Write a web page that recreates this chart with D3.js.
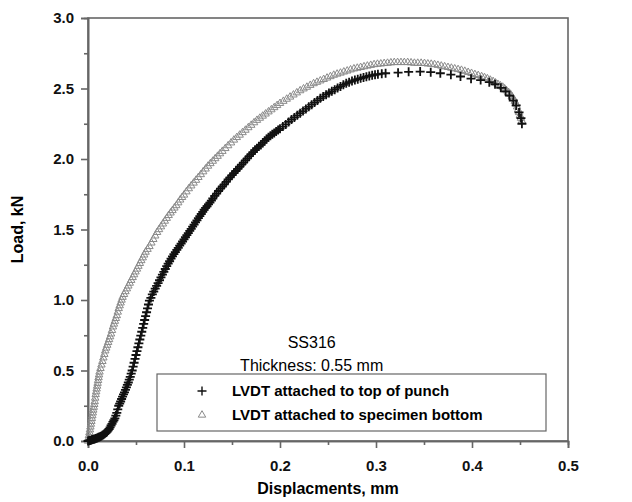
<!DOCTYPE html>
<html>
<head>
<meta charset="utf-8">
<script src="https://cdn.jsdelivr.net/npm/d3@7"></script>
<style>
  body { margin: 0; background: #fff; }
  #chart { width: 632px; height: 502px; }
  text { font-family: "Liberation Sans", Arial, sans-serif; }
</style>
</head>
<body>
<div id="chart"></div>
<script>
// tick values
const xTicks = [0, 0.1, 0.2, 0.3, 0.4, 0.5];
const xMinor = [0.05, 0.15, 0.25, 0.35, 0.45];
const yTicks = [0, 0.5, 1.0, 1.5, 2.0, 2.5, 3.0];
const yMinor = [0.25, 0.75, 1.25, 1.75, 2.25, 2.75];

const seriesNames = ["LVDT attached to top of punch", "LVDT attached to specimen bottom"];

// LVDT on top of punch (+): [displacement mm, load kN]
const punchData = [
  [0.000,0.000],[0.001,0.002],[0.002,0.004],[0.003,0.006],[0.004,0.008],[0.005,0.010],[0.006,0.012],[0.007,0.014],[0.008,0.017],[0.009,0.020],
  [0.010,0.023],[0.011,0.026],[0.012,0.029],[0.013,0.032],[0.014,0.035],[0.015,0.040],[0.016,0.045],[0.017,0.050],[0.018,0.055],[0.019,0.060],
  [0.020,0.066],[0.021,0.075],[0.022,0.085],[0.023,0.097],[0.024,0.110],[0.025,0.122],[0.026,0.135],[0.027,0.147],[0.028,0.160],[0.029,0.180],
  [0.030,0.200],[0.031,0.225],[0.032,0.250],[0.033,0.265],[0.034,0.280],[0.035,0.298],[0.036,0.315],[0.037,0.330],[0.038,0.345],[0.039,0.362],
  [0.040,0.380],[0.041,0.398],[0.042,0.415],[0.043,0.435],[0.044,0.455],[0.045,0.478],[0.046,0.500],[0.047,0.528],[0.048,0.555],[0.049,0.583],
  [0.050,0.610],[0.051,0.638],[0.052,0.665],[0.053,0.693],[0.054,0.720],[0.055,0.748],[0.056,0.775],[0.057,0.803],[0.058,0.830],[0.059,0.858],
  [0.060,0.885],[0.061,0.913],[0.062,0.940],[0.063,0.968],[0.064,0.995],[0.0655,1.015],[0.067,1.040],[0.0685,1.060],[0.070,1.080],[0.0715,1.100],
  [0.073,1.120],[0.0745,1.140],[0.076,1.160],[0.0775,1.180],[0.079,1.200],[0.0805,1.220],[0.082,1.240],[0.0835,1.258],[0.085,1.275],[0.0865,1.293],
  [0.088,1.310],[0.0895,1.325],[0.091,1.340],[0.0925,1.355],[0.094,1.370],[0.0955,1.385],[0.097,1.400],[0.0985,1.415],[0.100,1.430],[0.1015,1.445],
  [0.103,1.460],[0.1045,1.475],[0.106,1.490],[0.1075,1.505],[0.109,1.520],[0.1105,1.535],[0.112,1.550],[0.1135,1.565],[0.115,1.580],[0.1165,1.595],
  [0.118,1.610],[0.1195,1.625],[0.121,1.640],[0.1225,1.653],[0.124,1.665],[0.1255,1.678],[0.127,1.690],[0.1285,1.705],[0.130,1.720],[0.132,1.738],
  [0.134,1.755],[0.136,1.773],[0.138,1.790],[0.140,1.805],[0.142,1.820],[0.144,1.838],[0.146,1.855],[0.148,1.870],[0.150,1.885],[0.152,1.900],
  [0.154,1.915],[0.156,1.930],[0.158,1.945],[0.160,1.960],[0.162,1.975],[0.164,1.990],[0.166,2.005],[0.168,2.020],[0.170,2.035],[0.172,2.049],
  [0.174,2.063],[0.176,2.077],[0.178,2.090],[0.180,2.100],[0.182,2.114],[0.184,2.128],[0.186,2.142],[0.188,2.154],[0.190,2.165],[0.192,2.175],
  [0.194,2.185],[0.196,2.195],[0.198,2.205],[0.200,2.215],[0.203,2.230],[0.206,2.245],[0.209,2.263],[0.212,2.280],[0.215,2.295],[0.218,2.310],
  [0.221,2.325],[0.224,2.340],[0.227,2.355],[0.230,2.370],[0.233,2.385],[0.236,2.400],[0.239,2.415],[0.242,2.430],[0.245,2.443],[0.248,2.456],
  [0.251,2.468],[0.254,2.480],[0.257,2.492],[0.260,2.504],[0.263,2.515],[0.266,2.526],[0.269,2.537],[0.272,2.545],[0.275,2.553],[0.278,2.560],
  [0.281,2.566],[0.284,2.572],[0.287,2.578],[0.290,2.584],[0.293,2.589],[0.296,2.594],[0.299,2.598],[0.302,2.601],[0.306,2.605],[0.310,2.608],
  [0.323,2.612],[0.334,2.618],[0.346,2.620],[0.357,2.616],[0.367,2.608],[0.378,2.598],[0.388,2.585],[0.399,2.570],[0.409,2.560],[0.418,2.545],
  [0.424,2.530],[0.430,2.505],[0.435,2.480],[0.439,2.450],[0.443,2.415],[0.446,2.380],[0.449,2.330],[0.451,2.290],[0.452,2.250]
];

// LVDT on specimen bottom (open triangles): [displacement mm, load kN]
const bottomData = [
  [0.0000,0.00],[0.0005,0.02],[0.001,0.04],[0.0015,0.06],[0.002,0.08],[0.0025,0.10],[0.003,0.12],[0.0035,0.14],[0.004,0.16],[0.0045,0.18],
  [0.005,0.20],[0.0055,0.22],[0.006,0.24],[0.0065,0.26],[0.007,0.28],[0.0075,0.305],[0.008,0.33],[0.0085,0.35],[0.009,0.37],[0.0095,0.39],
  [0.010,0.41],[0.0105,0.43],[0.011,0.45],[0.0115,0.47],[0.012,0.49],[0.013,0.515],[0.014,0.54],[0.015,0.565],[0.016,0.59],[0.017,0.615],
  [0.018,0.64],[0.019,0.66],[0.020,0.68],[0.021,0.70],[0.022,0.72],[0.023,0.74],[0.024,0.76],[0.025,0.785],[0.026,0.81],[0.027,0.83],
  [0.028,0.85],[0.029,0.87],[0.030,0.89],[0.031,0.915],[0.032,0.94],[0.033,0.96],[0.034,0.98],[0.035,1.00],[0.036,1.02],[0.0375,1.04],
  [0.039,1.06],[0.0405,1.08],[0.042,1.10],[0.0435,1.12],[0.045,1.14],[0.0465,1.16],[0.048,1.18],[0.0495,1.20],[0.051,1.22],[0.0525,1.24],
  [0.054,1.26],[0.0555,1.28],[0.057,1.30],[0.0585,1.32],[0.060,1.34],[0.062,1.36],[0.064,1.38],[0.066,1.405],[0.068,1.43],[0.070,1.455],
  [0.072,1.48],[0.074,1.50],[0.076,1.52],[0.078,1.54],[0.080,1.56],[0.082,1.58],[0.084,1.60],[0.086,1.618],[0.088,1.635],[0.090,1.653],
  [0.092,1.67],[0.094,1.69],[0.096,1.71],[0.098,1.728],[0.100,1.745],[0.1025,1.768],[0.105,1.79],[0.1075,1.81],[0.110,1.83],[0.1125,1.85],
  [0.115,1.87],[0.1175,1.89],[0.120,1.91],[0.1225,1.93],[0.125,1.95],[0.1275,1.968],[0.130,1.985],[0.1325,2.003],[0.135,2.02],[0.1375,2.038],
  [0.140,2.055],[0.143,2.075],[0.146,2.095],[0.149,2.115],[0.152,2.135],[0.155,2.153],[0.158,2.17],[0.161,2.188],[0.164,2.205],[0.167,2.223],
  [0.170,2.24],[0.173,2.258],[0.176,2.275],[0.179,2.29],[0.182,2.305],[0.185,2.32],[0.188,2.335],[0.191,2.35],[0.194,2.365],[0.197,2.38],
  [0.200,2.395],[0.2035,2.41],[0.207,2.425],[0.2105,2.44],[0.214,2.455],[0.2175,2.47],[0.221,2.485],[0.2245,2.498],[0.228,2.51],[0.2315,2.523],
  [0.235,2.535],[0.2385,2.545],[0.242,2.555],[0.2455,2.565],[0.249,2.575],[0.2525,2.585],[0.256,2.595],[0.2595,2.603],[0.263,2.61],[0.2665,2.618],
  [0.270,2.625],[0.2735,2.633],[0.277,2.64],[0.2805,2.645],[0.284,2.65],[0.2875,2.655],[0.291,2.66],[0.2945,2.665],[0.298,2.67],[0.3015,2.673],
  [0.305,2.675],[0.3085,2.678],[0.312,2.68],[0.3155,2.683],[0.319,2.685],[0.3225,2.685],[0.326,2.685],[0.3295,2.685],[0.333,2.685],[0.3365,2.683],
  [0.340,2.68],[0.3435,2.68],[0.347,2.68],[0.3505,2.678],[0.354,2.675],[0.3575,2.673],[0.361,2.67],[0.3645,2.665],[0.368,2.66],[0.3715,2.655],
  [0.375,2.65],[0.3785,2.645],[0.382,2.64],[0.3855,2.635],[0.389,2.63],[0.3925,2.623],[0.396,2.615],[0.3995,2.608],[0.403,2.60],[0.4065,2.593],
  [0.410,2.585],[0.413,2.578],[0.416,2.57],[0.419,2.56],[0.422,2.55],[0.4245,2.54],[0.427,2.53],[0.4295,2.52],[0.432,2.51],[0.434,2.498],
  [0.436,2.485],[0.438,2.473],[0.440,2.46],[0.4415,2.445],[0.443,2.43],[0.4445,2.41],[0.446,2.39],[0.447,2.37],[0.448,2.35],[0.449,2.33],
  [0.450,2.31],[0.451,2.29],[0.452,2.27]
];

const width = 632, height = 502;
const margin = { left: 88, right: 64, top: 18, bottom: 61 };
const innerW = width - margin.left - margin.right;
const innerH = height - margin.top - margin.bottom;
const axisColor = "#666";

const svg = d3.select("#chart").append("svg")
  .attr("width", width).attr("height", height);

const g = svg.append("g").attr("transform", `translate(${margin.left},${margin.top})`);

const x = d3.scaleLinear().domain([0, 0.5]).range([0, innerW]);
const y = d3.scaleLinear().domain([0, 3]).range([innerH, 0]);

// frame top/right
g.append("rect")
  .attr("width", innerW).attr("height", innerH)
  .attr("fill", "none").attr("stroke", axisColor).attr("stroke-width", 1.6);

function styleAxis(sel) {
  sel.selectAll("path, line").attr("stroke", axisColor).attr("stroke-width", 1.6);
  sel.selectAll("text")
    .attr("fill", "#111")
    .style("font-size", "15px")
    .style("font-weight", "bold");
}

g.append("g").attr("transform", `translate(0,${innerH})`)
  .call(d3.axisBottom(x).tickValues(xMinor).tickSize(4).tickFormat(""))
  .call(styleAxis);
g.append("g").attr("transform", `translate(0,${innerH})`)
  .call(d3.axisBottom(x).tickValues(xTicks).tickSize(7).tickPadding(12).tickFormat(d3.format(".1f")))
  .call(styleAxis);

g.append("g")
  .call(d3.axisLeft(y).tickValues(yMinor).tickSize(4).tickFormat(""))
  .call(styleAxis);
g.append("g")
  .call(d3.axisLeft(y).tickValues(yTicks).tickSize(7).tickPadding(7).tickFormat(d3.format(".1f")))
  .call(styleAxis);

// axis titles
svg.append("text")
  .attr("x", margin.left + innerW / 2).attr("y", 494)
  .attr("text-anchor", "middle")
  .style("font-size", "16px").style("font-weight", "bold")
  .text("Displacments, mm");

svg.append("text")
  .attr("transform", `translate(23,${margin.top + innerH / 2}) rotate(-90)`)
  .attr("text-anchor", "middle")
  .style("font-size", "16px").style("font-weight", "bold")
  .text("Load, kN");

// markers
const plusPath = "M-4.5,0H4.5M0,-4.5V4.5";
const triPath = d3.symbol().type(d3.symbolTriangle).size(24)();

g.append("g").selectAll("path")
  .data(bottomData)
  .join("path")
  .attr("d", triPath)
  .attr("transform", d => `translate(${x(d[0])},${y(d[1])})`)
  .attr("fill", "none")
  .attr("stroke", "#8a8a8a")
  .attr("stroke-width", 1);

g.append("g").selectAll("path")
  .data(punchData)
  .join("path")
  .attr("d", plusPath)
  .attr("transform", d => `translate(${x(d[0])},${y(d[1])})`)
  .attr("fill", "none")
  .attr("stroke", "#111")
  .attr("stroke-width", 1.8);

// annotation
const note = g.append("g").attr("transform", `translate(${x(0.233)},0)`);
note.append("text").attr("y", y(0.66)).attr("text-anchor", "middle")
  .style("font-size", "16px").text("SS316");
note.append("text").attr("y", y(0.5)).attr("text-anchor", "middle")
  .style("font-size", "16px").text("Thickness: 0.55 mm");

// legend
const legend = svg.append("g").attr("transform", "translate(157,374)");
legend.append("rect")
  .attr("width", 389).attr("height", 57)
  .attr("fill", "#fff").attr("stroke", axisColor).attr("stroke-width", 1.2);

const rows = legend.selectAll(".row")
  .data(seriesNames)
  .join("g")
  .attr("class", "row")
  .attr("transform", (d, i) => `translate(0,${17 + i * 24})`);

rows.append("path")
  .attr("transform", "translate(45,0)")
  .attr("d", (d, i) => i === 0 ? plusPath : triPath)
  .attr("fill", "none")
  .attr("stroke", (d, i) => i === 0 ? "#111" : "#8a8a8a")
  .attr("stroke-width", (d, i) => i === 0 ? 1.4 : 1);

rows.append("text")
  .attr("x", 75).attr("dy", "0.36em")
  .style("font-size", "15px").style("font-weight", "bold")
  .text(d => d);
</script>
</body>
</html>
